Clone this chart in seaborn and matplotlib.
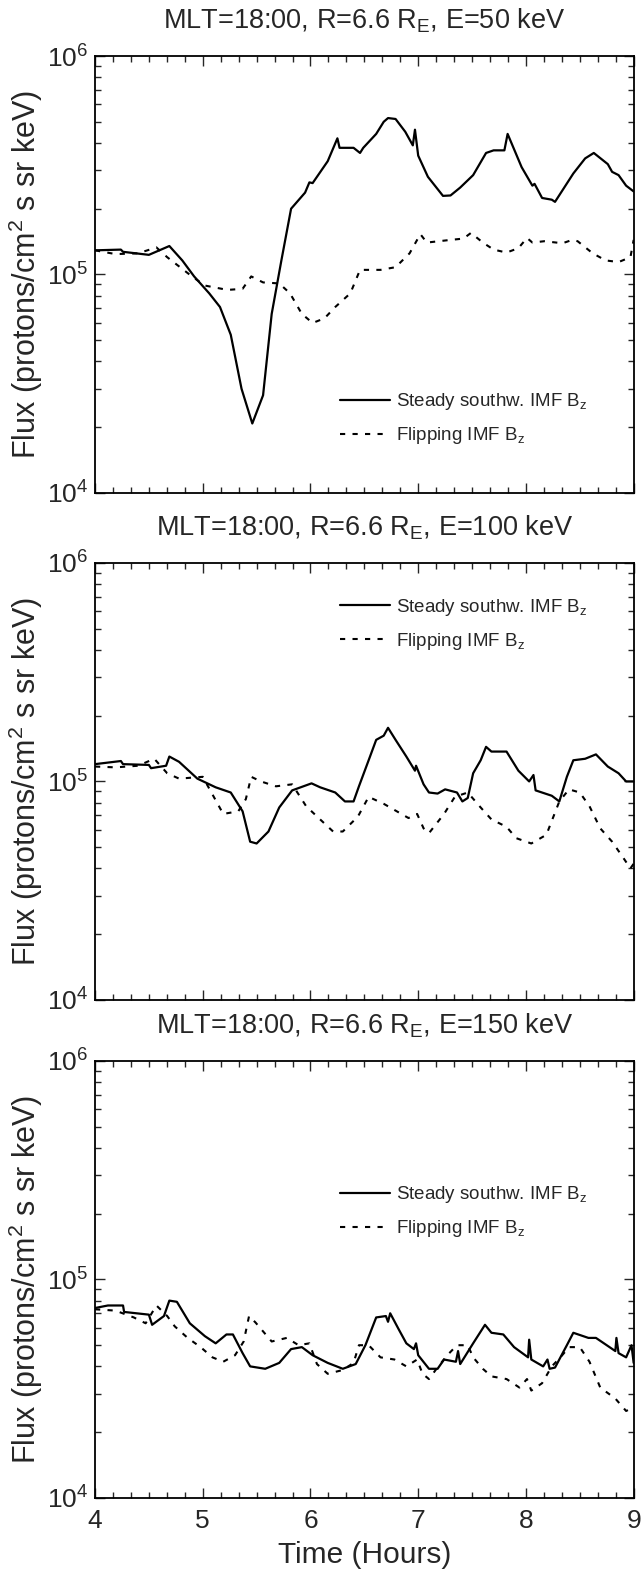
import numpy as np
import pandas as pd
import matplotlib.pyplot as plt
from matplotlib.ticker import MultipleLocator, LogLocator, NullFormatter
import seaborn as sns

sns.set_theme(style="ticks")
plt.rcParams['font.family'] = ['Liberation Sans', 'DejaVu Sans']
plt.rcParams['mathtext.fontset'] = 'custom'
plt.rcParams['mathtext.rm'] = 'Liberation Sans'
plt.rcParams['mathtext.it'] = 'Liberation Sans:italic'
plt.rcParams['mathtext.bf'] = 'Liberation Sans:bold'
plt.rcParams['mathtext.default'] = 'regular'

# ---- E = 50 keV ----
t50_steady = [4.00, 4.24, 4.26, 4.50, 4.69, 4.81, 4.92, 5.06, 5.16, 5.26, 5.36, 5.46, 5.56, 5.64,
              5.73, 5.82, 5.95, 5.99, 6.02, 6.16, 6.25, 6.27, 6.40, 6.46, 6.49, 6.61, 6.68, 6.72,
              6.79, 6.88, 6.95, 6.97, 7.00, 7.09, 7.23, 7.30, 7.39, 7.51, 7.63, 7.70, 7.80, 7.83,
              7.96, 8.06, 8.08, 8.15, 8.24, 8.27, 8.44, 8.55, 8.63, 8.76, 8.80, 8.86, 8.93, 9.00]
f50_steady = [1.29e5, 1.30e5, 1.27e5, 1.23e5, 1.35e5, 1.16e5, 9.8e4, 8.2e4, 7.1e4, 5.3e4, 3.0e4, 2.08e4,
              2.8e4, 6.6e4, 1.16e5, 2.0e5, 2.37e5, 2.64e5, 2.62e5, 3.3e5, 4.2e5, 3.8e5, 3.8e5, 3.6e5,
              3.8e5, 4.4e5, 5.0e5, 5.2e5, 5.15e5, 4.5e5, 3.9e5, 4.6e5, 3.5e5, 2.8e5, 2.29e5, 2.3e5,
              2.5e5, 2.85e5, 3.6e5, 3.7e5, 3.7e5, 4.4e5, 3.1e5, 2.55e5, 2.6e5, 2.24e5, 2.2e5, 2.15e5,
              2.9e5, 3.4e5, 3.6e5, 3.2e5, 2.95e5, 2.85e5, 2.55e5, 2.4e5]
t50_flip = [4.00, 4.19, 4.40, 4.57, 4.67, 4.90, 5.02, 5.23, 5.37, 5.45, 5.56, 5.71, 5.81, 5.92, 6.02,
            6.13, 6.23, 6.37, 6.46, 6.65, 6.79, 6.92, 7.02, 7.08, 7.30, 7.42, 7.49, 7.60, 7.70, 7.82,
            7.93, 8.01, 8.06, 8.17, 8.34, 8.43, 8.48, 8.62, 8.74, 8.86, 8.97, 9.00]
f50_flip = [1.29e5, 1.24e5, 1.25e5, 1.33e5, 1.20e5, 9.8e4, 8.9e4, 8.5e4, 8.6e4, 9.8e4, 9.2e4, 9.1e4,
            8.2e4, 6.6e4, 6.0e4, 6.3e4, 7.1e4, 8.2e4, 1.05e5, 1.05e5, 1.08e5, 1.25e5, 1.53e5, 1.40e5,
            1.44e5, 1.46e5, 1.55e5, 1.40e5, 1.30e5, 1.26e5, 1.32e5, 1.47e5, 1.40e5, 1.42e5, 1.39e5,
            1.44e5, 1.42e5, 1.25e5, 1.16e5, 1.14e5, 1.20e5, 1.44e5]

# ---- E = 100 keV ----
t100_steady = [4.00, 4.24, 4.26, 4.50, 4.52, 4.66, 4.69, 4.78, 4.95, 5.12, 5.26, 5.37, 5.44, 5.50,
               5.61, 5.71, 5.83, 6.01, 6.09, 6.23, 6.32, 6.40, 6.45, 6.54, 6.61, 6.68, 6.72, 6.79,
               6.89, 6.97, 6.98, 7.05, 7.10, 7.18, 7.25, 7.36, 7.41, 7.46, 7.51, 7.58, 7.63, 7.68,
               7.82, 7.93, 8.03, 8.07, 8.09, 8.24, 8.31, 8.38, 8.44, 8.55, 8.65, 8.76, 8.86, 8.93, 9.00]
f100_steady = [1.20e5, 1.24e5, 1.20e5, 1.19e5, 1.15e5, 1.18e5, 1.30e5, 1.23e5, 1.03e5, 9.4e4, 8.9e4,
               7.3e4, 5.3e4, 5.2e4, 5.9e4, 7.6e4, 9.1e4, 9.8e4, 9.4e4, 8.9e4, 8.1e4, 8.1e4, 9.5e4,
               1.25e5, 1.55e5, 1.62e5, 1.76e5, 1.55e5, 1.30e5, 1.12e5, 1.18e5, 9.7e4, 8.9e4, 8.8e4,
               9.2e4, 8.9e4, 8.1e4, 8.4e4, 1.09e5, 1.25e5, 1.44e5, 1.37e5, 1.37e5, 1.12e5, 1.0e5,
               1.07e5, 9.1e4, 8.6e4, 8.1e4, 1.05e5, 1.25e5, 1.27e5, 1.33e5, 1.17e5, 1.09e5, 1.0e5, 1.0e5]
t100_flip = [4.00, 4.19, 4.40, 4.55, 4.67, 4.78, 5.00, 5.19, 5.33, 5.40, 5.45, 5.54, 5.68, 5.83, 5.96,
             6.09, 6.21, 6.30, 6.44, 6.54, 6.68, 6.91, 6.99, 7.05, 7.10, 7.24, 7.34, 7.46, 7.58, 7.68,
             7.82, 7.91, 8.05, 8.19, 8.31, 8.40, 8.50, 8.59, 8.69, 8.80, 8.90, 8.97, 9.00]
f100_flip = [1.17e5, 1.16e5, 1.18e5, 1.27e5, 1.09e5, 1.03e5, 1.05e5, 7.1e4, 7.3e4, 8.3e4, 1.05e5, 1.0e5,
             9.5e4, 9.7e4, 7.7e4, 6.7e4, 5.9e4, 5.9e4, 6.9e4, 8.5e4, 7.9e4, 6.8e4, 7.1e4, 6.1e4, 5.8e4,
             7.1e4, 8.5e4, 8.9e4, 7.6e4, 6.7e4, 6.2e4, 5.5e4, 5.2e4, 5.7e4, 8.1e4, 9.2e4, 8.9e4, 7.7e4,
             6.1e4, 5.3e4, 4.5e4, 4.0e4, 4.2e4]

# ---- E = 150 keV ----
t150_steady = [4.00, 4.12, 4.26, 4.27, 4.50, 4.53, 4.64, 4.69, 4.76, 4.88, 5.02, 5.12, 5.22, 5.28,
               5.37, 5.44, 5.58, 5.71, 5.82, 5.92, 6.02, 6.16, 6.30, 6.42, 6.51, 6.61, 6.70, 6.72,
               6.74, 6.82, 6.89, 6.96, 6.98, 7.00, 7.10, 7.18, 7.24, 7.35, 7.37, 7.39, 7.51, 7.62,
               7.68, 7.79, 7.89, 8.02, 8.03, 8.05, 8.16, 8.20, 8.22, 8.27, 8.38, 8.44, 8.58, 8.65,
               8.75, 8.83, 8.84, 8.86, 8.93, 8.98, 9.00]
f150_steady = [7.4e4, 7.6e4, 7.6e4, 7.1e4, 6.9e4, 6.2e4, 6.8e4, 8.0e4, 7.9e4, 6.3e4, 5.5e4, 5.1e4,
               5.6e4, 5.6e4, 4.6e4, 4.0e4, 3.9e4, 4.15e4, 4.8e4, 4.9e4, 4.5e4, 4.15e4, 3.9e4, 4.1e4,
               5.0e4, 6.7e4, 6.8e4, 6.4e4, 7.0e4, 5.9e4, 5.1e4, 4.8e4, 5.1e4, 4.5e4, 3.9e4, 3.9e4,
               4.3e4, 4.2e4, 4.7e4, 4.1e4, 5.1e4, 6.2e4, 5.7e4, 5.6e4, 4.9e4, 4.4e4, 5.3e4, 4.3e4,
               4.0e4, 4.3e4, 3.9e4, 3.95e4, 5.0e4, 5.7e4, 5.4e4, 5.4e4, 5.0e4, 4.7e4, 5.4e4, 4.6e4,
               4.4e4, 5.0e4, 4.15e4]
t150_flip = [4.00, 4.19, 4.36, 4.47, 4.57, 4.67, 4.74, 4.86, 4.98, 5.09, 5.19, 5.30, 5.38, 5.43, 5.49,
             5.64, 5.78, 5.89, 5.99, 6.06, 6.16, 6.30, 6.40, 6.45, 6.54, 6.65, 6.78, 6.89, 6.99, 7.04,
             7.10, 7.17, 7.27, 7.36, 7.46, 7.51, 7.60, 7.68, 7.82, 7.94, 8.01, 8.05, 8.15, 8.24, 8.32,
             8.40, 8.50, 8.59, 8.69, 8.83, 8.93, 9.00]
f150_flip = [7.3e4, 7.2e4, 6.7e4, 6.3e4, 7.6e4, 6.8e4, 6.1e4, 5.4e4, 4.9e4, 4.4e4, 4.2e4, 4.5e4, 5.2e4,
             6.8e4, 6.35e4, 5.2e4, 5.4e4, 5.0e4, 5.1e4, 4.1e4, 3.7e4, 3.85e4, 4.15e4, 5.0e4, 5.0e4,
             4.4e4, 4.3e4, 4.0e4, 4.3e4, 3.7e4, 3.5e4, 3.9e4, 4.5e4, 5.0e4, 5.0e4, 4.4e4, 3.9e4, 3.6e4,
             3.5e4, 3.2e4, 3.5e4, 3.1e4, 3.35e4, 4.0e4, 4.4e4, 4.9e4, 4.9e4, 4.2e4, 3.2e4, 2.85e4,
             2.5e4, 2.6e4]

energies = ["50", "100", "150"]
panels = [
    (t50_steady, f50_steady, t50_flip, f50_flip),
    (t100_steady, f100_steady, t100_flip, f100_flip),
    (t150_steady, f150_steady, t150_flip, f150_flip),
]
legend_y = [0.17, 0.86, 0.655]

fig = plt.figure(figsize=(6.42, 15.69), dpi=100)
bottoms = [0.6858, 0.3627, 0.0453]
axes = [fig.add_axes([0.148, b, 0.839, 0.2785]) for b in bottoms]

for ax, energy, (ts, fs, tf, ff), ly in zip(axes, energies, panels, legend_y):
    steady = pd.DataFrame({"Time": ts, "Flux": fs})
    flip = pd.DataFrame({"Time": tf, "Flux": ff})
    sns.lineplot(data=steady, x="Time", y="Flux", ax=ax, color="black", linewidth=1.6,
                 estimator=None, label="Steady southw. IMF B$_z$")
    sns.lineplot(data=flip, x="Time", y="Flux", ax=ax, color="black", linewidth=1.5,
                 linestyle=(0, (2.5, 3.5)), estimator=None, label="Flipping IMF B$_z$")

    ax.set_yscale("log")
    ax.set_xlim(4, 9)
    ax.set_ylim(1e4, 1e6)
    ax.xaxis.set_major_locator(MultipleLocator(1))
    ax.xaxis.set_minor_locator(MultipleLocator(1 / 6))
    ax.yaxis.set_major_locator(LogLocator(base=10, numticks=5))
    ax.yaxis.set_minor_locator(LogLocator(base=10, subs=np.arange(2, 10), numticks=20))
    ax.yaxis.set_minor_formatter(NullFormatter())
    ax.tick_params(which="both", direction="in", top=True, right=True, labelsize=19, width=1.0)
    ax.tick_params(which="major", length=7)
    ax.tick_params(which="minor", length=4)
    ax.tick_params(axis="x", which="major", pad=8)
    ax.tick_params(axis="y", which="major", pad=5)
    for s in ax.spines.values():
        s.set_linewidth(1.3)
        s.set_color("black")

    ax.set_title(f"MLT=18:00, R=6.6 R$_E$, E={energy} keV", fontsize=19.5, pad=20)
    ax.set_ylabel("Flux (protons/cm$^2$ s sr keV)", fontsize=22, labelpad=1)
    ax.set_xlabel("")
    if energy != "150":
        ax.set_xticklabels([])
    ax.legend(loc="center left", bbox_to_anchor=(0.44, ly), frameon=False, fontsize=13.5,
              handlelength=2.7, handletextpad=0.3, labelspacing=0.7, borderaxespad=0)

axes[-1].set_xlabel("Time (Hours)", fontsize=21.5, labelpad=6)

fig.savefig("out.png", dpi=100)
